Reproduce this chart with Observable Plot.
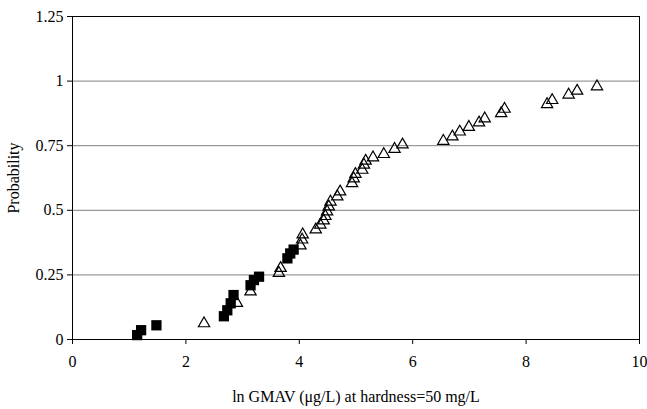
<!DOCTYPE html>
<html><head><meta charset="utf-8">
<script src="https://cdn.jsdelivr.net/npm/d3@7"></script>
<script src="https://cdn.jsdelivr.net/npm/@observablehq/plot@0.6"></script>
<style>body{margin:0;background:#fff} svg{font-family:"Liberation Serif",serif}</style>
</head><body><div id="chart"></div>
<script>
// Filled squares series
const squareX = [1.14, 1.21, 1.48, 2.67, 2.73, 2.79, 2.84, 3.14, 3.20, 3.29, 3.79, 3.84, 3.90];
const squareY = [0.017, 0.036, 0.055, 0.090, 0.113, 0.140, 0.172, 0.210, 0.230, 0.243, 0.314, 0.333, 0.348];
// Open triangles series
const triangleX = [2.32, 2.90, 3.14, 3.64, 3.67, 4.02, 4.05, 4.06, 4.29, 4.37, 4.43, 4.46, 4.49, 4.52, 4.55, 4.67, 4.72,
  4.93, 4.96, 4.99, 5.11, 5.14, 5.17, 5.30, 5.49, 5.68, 5.82, 6.54, 6.70, 6.83, 6.99, 7.17, 7.27, 7.56, 7.62,
  8.37, 8.46, 8.75, 8.90, 9.25];
const triangleY = [0.062, 0.141, 0.185, 0.257, 0.276, 0.363, 0.386, 0.406, 0.425, 0.444, 0.460, 0.477, 0.495, 0.514, 0.533, 0.553, 0.572,
  0.604, 0.623, 0.640, 0.656, 0.676, 0.691, 0.704, 0.717, 0.737, 0.754, 0.768, 0.785, 0.804, 0.822, 0.839, 0.855, 0.875, 0.892,
  0.910, 0.926, 0.947, 0.962, 0.979];
const xTicks = [0, 2, 4, 6, 8, 10];
const yTicks = [0, 0.25, 0.5, 0.75, 1, 1.25];
const yGrid = [0.25, 0.5, 0.75, 1];
const xLabel = "ln GMAV (μg/L) at hardness=50 mg/L";
const yLabel = "Probability";

const squares = squareX.map((x, i) => ({x, y: squareY[i]}));
const triangles = triangleX.map((x, i) => ({x, y: triangleY[i]}));

const chart = Plot.plot({
  width: 647, height: 409,
  marginLeft: 72, marginRight: 8, marginTop: 16, marginBottom: 70,
  style: {fontFamily: "Liberation Serif", fontSize: "16px", background: "#fff", color: "#000"},
  x: {domain: [0, 10]},
  y: {domain: [0, 1.25]},
  marks: [
    Plot.ruleY(yGrid, {stroke: "#808080", strokeWidth: 1}),
    Plot.ruleY([1.25], {stroke: "#000"}),
    Plot.ruleX([10], {stroke: "#000"}),
    Plot.axisY({ticks: yTicks, tickSize: 5, tickPadding: 4, tickFormat: d => String(d),
      label: yLabel, labelArrow: "none", labelAnchor: "center", labelOffset: 65}),
    Plot.axisX({ticks: xTicks, tickSize: 5, tickPadding: 11, tickFormat: d => String(d),
      label: xLabel, labelArrow: "none", labelAnchor: "center", labelOffset: 62}),
    Plot.ruleX([0], {stroke: "#000"}),
    Plot.ruleY([0], {stroke: "#000"}),
    Plot.dot(triangles, {x: "x", y: "y", symbol: "triangle", r: 4.2, stroke: "#000", fill: "none", strokeWidth: 1.2}),
    Plot.dot(squares, {x: "x", y: "y", symbol: "square", r: 5.8, fill: "#000", stroke: "none"})
  ]
});
document.getElementById("chart").appendChild(chart);
</script>
</body></html>
